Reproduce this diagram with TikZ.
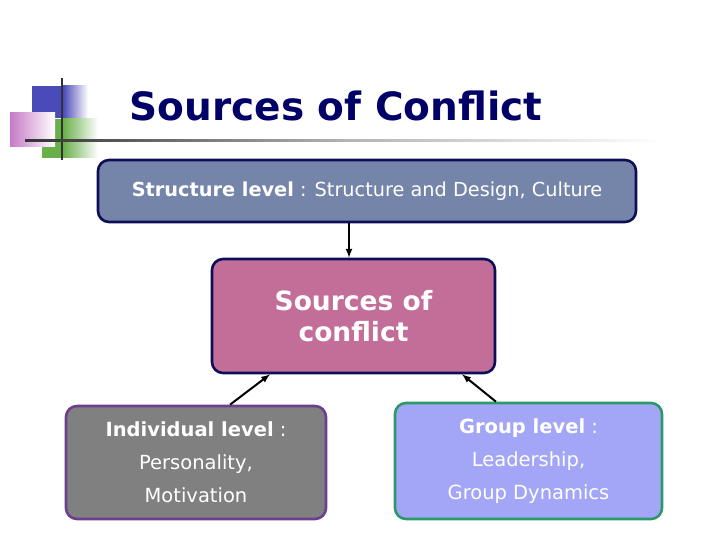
\documentclass[tikz,border=0pt]{standalone}
\usepackage{fontspec}
\setmainfont{DejaVu Sans}
\definecolor{titlenavy}{HTML}{000066}
\definecolor{structfill}{HTML}{7585AA}
\definecolor{srcfill}{HTML}{C26E99}
\definecolor{boxnavy}{HTML}{0E0E58}
\definecolor{indivfill}{HTML}{808080}
\definecolor{indivline}{HTML}{6B3F8E}
\definecolor{groupfill}{HTML}{A3A6F7}
\definecolor{groupline}{HTML}{2A9A6A}
\definecolor{decoblue}{HTML}{4A4AB8}
\definecolor{decogreen}{HTML}{6AB04A}
\definecolor{decopink}{HTML}{C67AC6}
\definecolor{decoline}{HTML}{333333}
\tikzset{
  lvlbox/.style={rounded corners=11pt, line width=2.6pt, align=center,
    text=white, inner sep=0pt},
  lvltext/.style={font=\fontsize{19.5}{33}\selectfont},
}
\begin{document}
\begin{tikzpicture}[>=latex, x=1pt, y=-1pt]
\useasboundingbox (0,0) rectangle (720,540);

% corner ornament
\fill[decoblue] (32,86) rectangle (63,118);
\shade[left color=decoblue, right color=white] (63,86) rectangle (88,118);
\fill[decogreen] (42,119) rectangle (63,158);
\shade[left color=decogreen, right color=white] (63,119) rectangle (98,158);
\shade[shading angle=225, left color=decopink, right color=white] (10,113) rectangle (55,147);
\draw[decoline, line width=2.4pt] (62,78) -- (62,160);
\shade[left color=decoline, right color=white, middle color=gray!60] (25,140) rectangle (665,142);

% title
\node[font=\fontsize{39}{42}\selectfont\bfseries, text=titlenavy] (title) at (336,106) {Sources of Conflict};

% boxes
\node[lvlbox, draw=boxnavy, fill=structfill, minimum width=538, minimum height=62,
  font=\fontsize{19.3}{22}\selectfont] (struct) at (367,191)
  {\textbf{Structure level} : Structure and Design, Culture};
\node[lvlbox, draw=boxnavy, fill=srcfill, minimum width=283, minimum height=114,
  font=\fontsize{26.5}{31}\selectfont\bfseries] (src) at (353.5,316)
  {Sources of\\conflict};
\node[lvlbox, lvltext, draw=indivline, fill=indivfill, minimum width=260, minimum height=113] (indiv) at (196,462.5)
  {\textbf{Individual level} :\\Personality,\\Motivation};
\node[lvlbox, lvltext, draw=groupline, fill=groupfill, minimum width=267, minimum height=116] (group) at (528.5,461)
  {\textbf{Group level} :\\Leadership,\\Group Dynamics};

% arrows
\draw[->, line width=2pt] (struct.south -| 349,0) -- (src.north -| 349,0);
\draw[->, line width=2pt] (indiv.north -| 230,0) -- (src.south -| 270,0);
\draw[->, line width=2pt] (group.north -| 496,0) -- (src.south -| 462,0);
\end{tikzpicture}
\end{document}
